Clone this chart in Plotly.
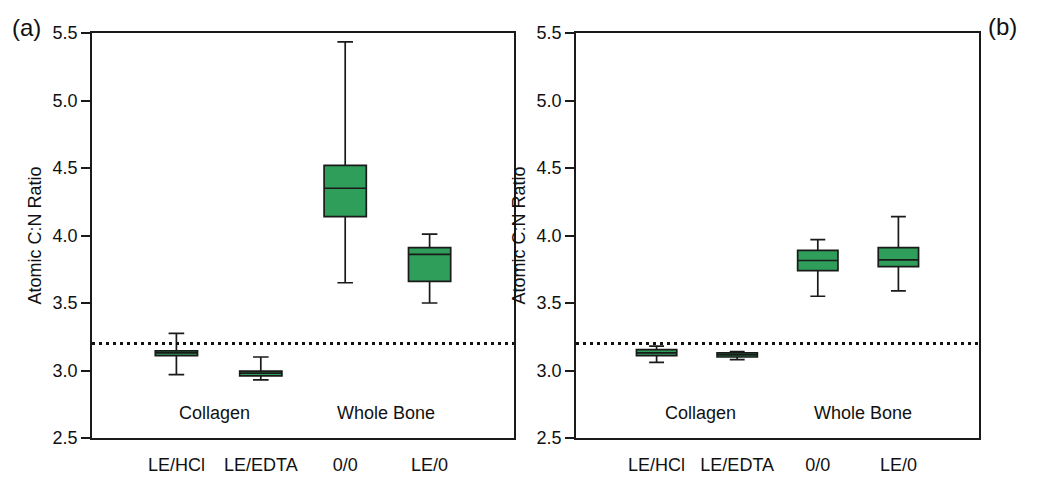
import plotly.graph_objects as go

W, H = 1050, 479

categories = ["LE/HCl", "LE/EDTA", "0/0", "LE/0"]
positions = [1, 2, 3, 4]

# Panel (a)
a_lower = [2.97, 2.93, 3.65, 3.50]
a_q1 = [3.11, 2.96, 4.14, 3.66]
a_median = [3.13, 2.98, 4.35, 3.86]
a_q3 = [3.145, 2.995, 4.52, 3.91]
a_upper = [3.275, 3.10, 5.435, 4.01]

# Panel (b)
b_lower = [3.06, 3.08, 3.55, 3.59]
b_q1 = [3.11, 3.10, 3.74, 3.77]
b_median = [3.13, 3.115, 3.815, 3.82]
b_q3 = [3.155, 3.13, 3.89, 3.91]
b_upper = [3.18, 3.14, 3.97, 4.14]

reference_line = 3.2
yticks = [2.5, 3.0, 3.5, 4.0, 4.5, 5.0, 5.5]

group_labels = ["Collagen", "Whole Bone"]
a_group_x = [1.45, 3.48]
b_group_x = [1.54, 3.56]
group_y = 2.685

FILL = "#2E9E5A"
LINE = "#1a1a1a"
FONT = "Liberation Sans, Arial, Helvetica, sans-serif"
FS = 18

fig = go.Figure()

def add_panel(xa, ya, lower, q1, med, q3, upper):
    fig.add_trace(go.Box(
        x=positions, q1=q1, median=med, q3=q3,
        lowerfence=lower, upperfence=upper,
        width=0.5, whiskerwidth=0.37,
        fillcolor=FILL, line=dict(color=LINE, width=1.7),
        boxpoints=False, showlegend=False, hoverinfo="skip",
        xaxis=xa, yaxis=ya,
    ))

add_panel("x", "y", a_lower, a_q1, a_median, a_q3, a_upper)
add_panel("x2", "y2", b_lower, b_q1, b_median, b_q3, b_upper)

x1dom = [92 / W, 514 / W]
x2dom = [576 / W, 979 / W]
ydom = [1 - 438 / H, 1 - 33 / H]

axis_common_x = dict(
    range=[0, 5], tickvals=positions, ticktext=categories,
    showline=True, mirror=True, linecolor=LINE, linewidth=1.7,
    ticks="", showgrid=False, zeroline=False, automargin=False,
    tickfont=dict(family=FONT, size=FS, color="#111"),
    ticklabelstandoff=10,
)
axis_common_y = dict(
    range=[2.5, 5.5], tickvals=yticks, tickformat=".1f",
    showline=True, mirror=True, linecolor=LINE, linewidth=1.7,
    ticks="outside", ticklen=9, tickwidth=1.7, tickcolor=LINE,
    showgrid=False, zeroline=False, automargin=False,
    tickfont=dict(family=FONT, size=FS, color="#111"),
    title=dict(text="Atomic C:N Ratio", font=dict(family=FONT, size=FS, color="#111"), standoff=6),
)

fig.update_layout(
    width=W, height=H,
    margin=dict(l=0, r=0, t=0, b=0, autoexpand=False),
    paper_bgcolor="white", plot_bgcolor="white",
    xaxis=dict(domain=x1dom, anchor="y", **axis_common_x),
    yaxis=dict(domain=ydom, anchor="x", **axis_common_y),
    xaxis2=dict(domain=x2dom, anchor="y2", **axis_common_x),
    yaxis2=dict(domain=ydom, anchor="x2", **axis_common_y),
    font=dict(family=FONT, color="#111"),
)

for xr in ["x", "x2"]:
    fig.add_shape(type="line", xref=f"{xr} domain", yref=xr.replace("x", "y"),
                  x0=0, x1=1, y0=reference_line, y1=reference_line,
                  line=dict(color="#111", width=3, dash="3px,4px"))

for xr, gx in [("x", a_group_x), ("x2", b_group_x)]:
    yr = xr.replace("x", "y")
    for lab, xv in zip(group_labels, gx):
        fig.add_annotation(x=xv, y=group_y, xref=xr, yref=yr, text=lab,
                           showarrow=False, font=dict(family=FONT, size=FS, color="#111"))

fig.add_annotation(x=26 / W, y=1 - 28 / H, xref="paper", yref="paper", text="(a)",
                   xanchor="center", yanchor="middle",
                   showarrow=False, font=dict(family=FONT, size=24, color="#111"))
fig.add_annotation(x=1002 / W, y=1 - 27 / H, xref="paper", yref="paper", text="(b)",
                   xanchor="center", yanchor="middle",
                   showarrow=False, font=dict(family=FONT, size=24, color="#111"))

fig.write_html("out.html")
